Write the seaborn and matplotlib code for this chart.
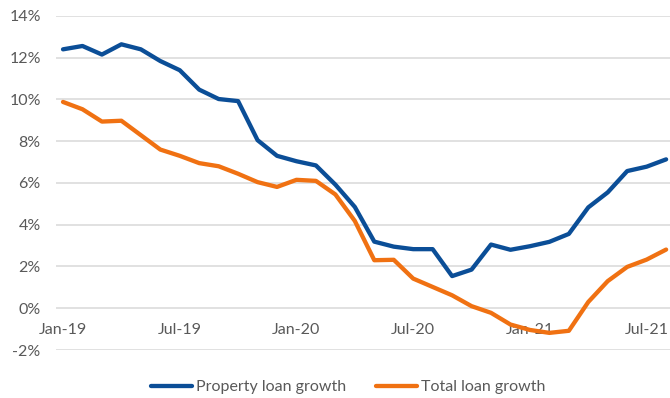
import numpy as np
import pandas as pd
import matplotlib
matplotlib.use("Agg")
import matplotlib.pyplot as plt
from matplotlib.lines import Line2D
import seaborn as sns

# Monthly series, Jan-2019 to Aug-2021 (year-on-year growth, %)
months = pd.date_range("2019-01-01", "2021-08-01", freq="MS")

property_loan_growth = [
    12.40, 12.56, 12.15, 12.64, 12.40, 11.84, 11.40, 10.47, 10.02, 9.92,
    8.05, 7.30, 7.04, 6.84, 5.92, 4.85, 3.19, 2.95, 2.83, 2.83,
    1.54, 1.85, 3.05, 2.80, 2.97, 3.18, 3.56, 4.83, 5.55, 6.57,
    6.78, 7.13,
]
total_loan_growth = [
    9.88, 9.53, 8.94, 8.98, 8.29, 7.60, 7.30, 6.95, 6.80, 6.44,
    6.04, 5.81, 6.15, 6.10, 5.45, 4.18, 2.30, 2.32, 1.42, 1.02,
    0.62, 0.10, -0.22, -0.78, -1.04, -1.18, -1.08, 0.30, 1.30, 1.98,
    2.33, 2.81,
]

series_names = ["Property loan growth", "Total loan growth"]
series_colors = ["#0B4E97", "#F07112"]

tick_months = ["Jan-19", "Jul-19", "Jan-20", "Jul-20", "Jan-21", "Jul-21"]
y_ticks = [-2, 0, 2, 4, 6, 8, 10, 12, 14]

n = len(months)
df = pd.DataFrame({
    "idx": np.tile(np.arange(n), 2),
    "value": property_loan_growth + total_loan_growth,
    "series": np.repeat(series_names, n),
})

sns.set_theme(style="white")
plt.rcParams["font.family"] = ["Lato", "DejaVu Sans"]
FS = 11.5

fig = plt.figure(figsize=(6.7, 3.98), dpi=100)
ax = fig.add_axes([0.0836, 0.1206, 0.9164, 0.8394])

sns.lineplot(
    data=df, x="idx", y="value", hue="series", hue_order=series_names,
    palette=series_colors, linewidth=3.1, ax=ax, legend=False,
    solid_capstyle="round",
)

ax.set_xlim(-0.36, 31.2)
ax.set_ylim(-2, 14)
ax.set_yticks(y_ticks)
ax.set_yticklabels([f"{t}%" for t in y_ticks])
ax.grid(axis="y", color="#D9D9D9", linewidth=1.1)
ax.set_axisbelow(True)

tick_pos = [months.get_loc(pd.to_datetime(m, format="%b-%y")) for m in tick_months]
ax.set_xticks(tick_pos)
ax.set_xticklabels(tick_months)

for s in ax.spines.values():
    s.set_visible(False)
ax.spines["bottom"].set_position(("data", 0))

ax.tick_params(axis="x", length=0, pad=10.5, labelsize=FS, labelcolor="#595959")
ax.tick_params(axis="y", length=0, pad=11, labelsize=FS, labelcolor="#595959")
ax.set_xlabel("")
ax.set_ylabel("")

handles = [Line2D([0], [0], color=c, linewidth=3.1) for c in series_colors]
fig.legend(
    handles, series_names, loc="center", bbox_to_anchor=(0.52, 0.027),
    ncol=2, frameon=False, fontsize=FS, handlelength=2.57,
    handletextpad=0.25, columnspacing=1.88, labelcolor="#595959",
)

fig.savefig("out.png", dpi=100)
